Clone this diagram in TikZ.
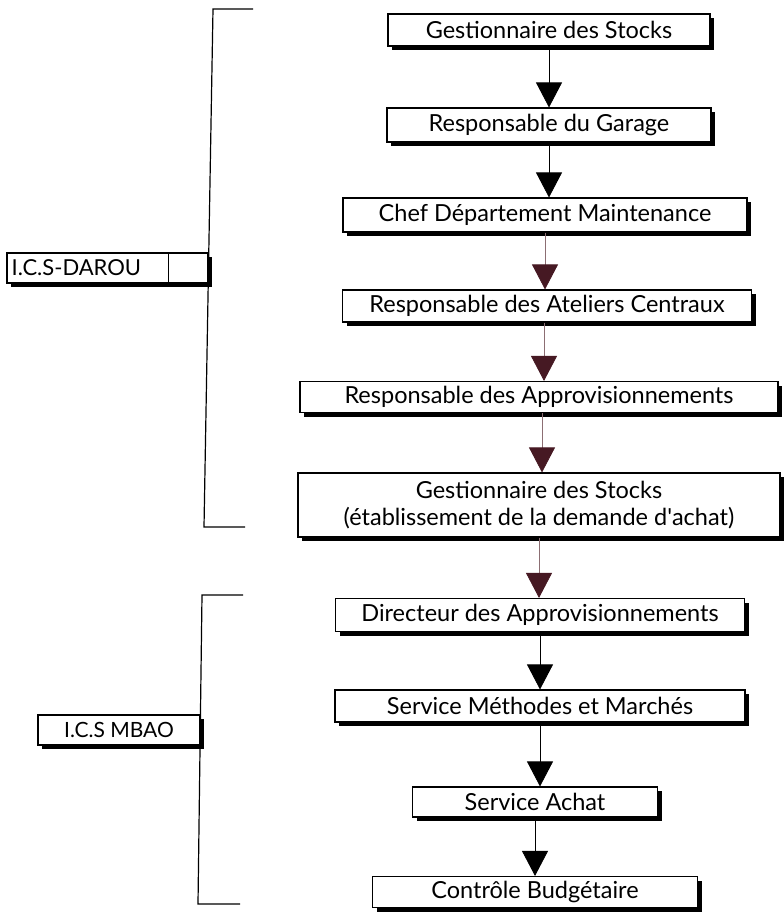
\documentclass[tikz,border=0pt]{standalone}
\usepackage{fontspec}
\setmainfont{Lato}
\usetikzlibrary{arrows.meta,shadows,calc}
\definecolor{tipred}{RGB}{70,25,35}
\definecolor{linered}{RGB}{140,110,115}
\begin{document}
\begin{tikzpicture}[x=1pt,y=-1pt,
  box/.style={draw=black, line width=1.1pt, fill=white, inner sep=0pt, align=center,
    font=\fontsize{23.5}{27}\selectfont,
    drop shadow={shadow xshift=4pt, shadow yshift=-4pt, fill=black, opacity=1}},
  grp/.style={draw=black, line width=1.1pt, fill=white, inner sep=0pt,
    drop shadow={shadow xshift=4pt, shadow yshift=-4pt, fill=black, opacity=1}},
  arr/.style={line width=0.8pt, -{Triangle[width=26pt,length=25pt]}},
  arrred/.style={line width=0.8pt, draw=linered, -{Triangle[width=26pt,length=25pt,color=tipred]}},
  brk/.style={line width=1.2pt}]
\useasboundingbox (0,0) rectangle (784,916);
% boxes
\node[box, minimum width=322pt, minimum height=32pt] (b1) at (549,30) {Gestionnaire des Stocks};
\node[box, minimum width=324pt, minimum height=34pt] (b2) at (549,125) {Responsable du Garage};
\node[box, minimum width=404pt, minimum height=34pt] (b3) at (545,215) {Chef Département Maintenance};
\node[box, minimum width=409pt, minimum height=32pt] (b4) at (547,306) {Responsable des Ateliers Centraux};
\node[box, minimum width=478pt, minimum height=31pt] (b5) at (539,397) {Responsable des Approvisionnements};
\node[box, minimum width=482pt, minimum height=64pt] (b6) at (539,505) {Gestionnaire des Stocks\\(établissement de la demande d\textquotesingle achat)};
\node[box, minimum width=409pt, minimum height=33pt] (b7) at (540,615) {Directeur des Approvisionnements};
\node[box, minimum width=410pt, minimum height=32pt] (b8) at (540,706) {Service Méthodes et Marchés};
\node[box, minimum width=245pt, minimum height=30pt] (b9) at (535,802) {Service Achat};
\node[box, minimum width=325pt, minimum height=31pt] (b10) at (535,892) {Contrôle Budgétaire};
% arrow start points
\coordinate (s4) at ($(b4.south)+(-3,0)$);
\coordinate (s5) at ($(b5.south)+(3,0)$);
% arrows
\draw[arr] (b1.south) -- (b1.south |- b2.north);
\draw[arr] (b2.south) -- (b2.south |- b3.north);
\draw[arrred] (b3.south) -- (b3.south |- b4.north);
\draw[arrred] (s4) -- (s4 |- b5.north);
\draw[arrred] (s5) -- (s5 |- b6.north);
\draw[arrred] (b6.south) -- (b6.south |- b7.north);
\draw[arr] (b7.south) -- (b7.south |- b8.north);
\draw[arr] (b8.south) -- (b8.south |- b9.north);
\draw[arr] (b9.south) -- (b9.south |- b10.north);
% DAROU bracket
\coordinate (d1) at (253,9);
\coordinate (d2) at (213,9);
\coordinate (d3) at (204,527);
\coordinate (d4) at (245,527);
\draw[brk] (d1) -- (d2) -- (d3) -- (d4);
\node[grp, minimum width=201pt, minimum height=30pt] (darou) at (107.5,268) {};
\node[anchor=west, inner sep=0pt, font=\fontsize{22}{25}\selectfont] (daroutxt) at ($(darou.west)+(5,0)$) {I.C.S-DAROU};
\draw[line width=1.1pt] ($(darou.north east)+(-40,0)$) -- ($(darou.south east)+(-40,0)$);
% MBAO bracket
\coordinate (m1) at (243,595);
\coordinate (m2) at (202,595);
\coordinate (m3) at (198,904);
\coordinate (m4) at (240,904);
\draw[brk] (m1) -- (m2) -- (m3) -- (m4);
\node[grp, minimum width=162pt, minimum height=30pt, font=\fontsize{21}{24}\selectfont] (mbao) at (119,730) {I.C.S MBAO};
\end{tikzpicture}
\end{document}
